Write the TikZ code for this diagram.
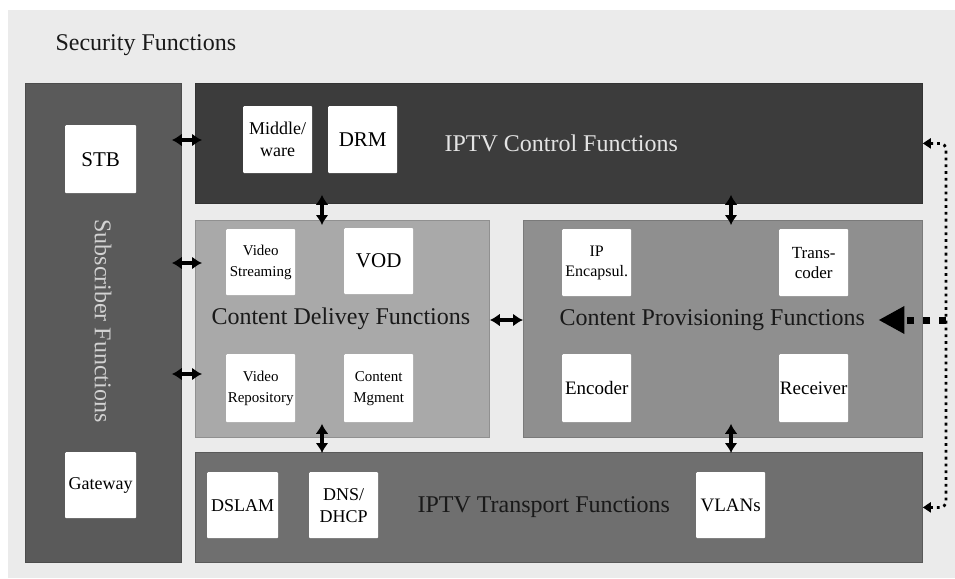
\documentclass[tikz,border=0pt]{standalone}
\usepackage{fontspec}
\setmainfont{Liberation Serif}
\usetikzlibrary{arrows.meta}
\definecolor{bgc}{HTML}{EBEBEB}
\definecolor{subc}{HTML}{5A5A5A}
\definecolor{ctrlc}{HTML}{3C3C3C}
\definecolor{delc}{HTML}{A9A9A9}
\definecolor{provc}{HTML}{8F8F8F}
\definecolor{trc}{HTML}{6F6F6F}
\definecolor{lighttext}{HTML}{E4E4E4}
\definecolor{subtext}{HTML}{D2D2D2}
\begin{document}
\begin{tikzpicture}[x=1pt,y=-1pt,
  panel/.style={anchor=north west, inner sep=0pt, line width=0.8pt},
  wbox/.style={anchor=north west, fill=white, inner sep=0pt, minimum width=69pt, minimum height=67pt, align=center, rounded corners=1pt, text=black},
  big/.style={font=\fontsize{24}{28}\selectfont},
  bl/.style={font=\fontsize{21}{24}\selectfont},
  ml/.style={font=\fontsize{18}{22}\selectfont},
  sl/.style={font=\fontsize{15}{21}\selectfont},
  dbl/.style={{Latex[length=10pt,width=13pt]}-{Latex[length=10pt,width=13pt]}, line width=3.4pt, black},
  dotline/.style={{Triangle[length=8pt,width=10pt]}-{Triangle[length=8pt,width=10pt]}, line width=2.8pt, dash pattern=on 2.8pt off 4pt, rounded corners=6pt, black},
  thickdash/.style={-{Triangle[length=26pt,width=26pt]}, line width=7pt, dash pattern=on 7pt off 9pt, black}
]
\useasboundingbox (0,0) rectangle (955,578);
\fill[white] (0,0) rectangle (955,578);
\fill[bgc] (8,10) rectangle (955,578);

\node[anchor=west, big, text=black!90] (sec) at (52,45) {Security Functions};

% panels
\node[panel, fill=subc, draw=subc!85!black, minimum width=156pt, minimum height=479pt] (sub) at (25,83) {};
\node[panel, fill=ctrlc, draw=ctrlc!85!black, minimum width=727pt, minimum height=120pt] (ctrl) at (195,83) {};
\node[panel, fill=delc, draw=delc!85!black, minimum width=294pt, minimum height=217pt] (deliv) at (195,220) {};
\node[panel, fill=provc, draw=provc!85!black, minimum width=399pt, minimum height=217pt] (prov) at (523,220) {};
\node[panel, fill=trc, draw=trc!80!black, minimum width=727pt, minimum height=110pt] (trans) at (195,452) {};

% panel labels
\node[big, text=subtext, rotate=-90] (subl) at (103,321) {Subscriber Functions};
\node[anchor=west, big, text=lighttext] (ctrll) at (441,143) {IPTV Control Functions};
\node[anchor=west, big, text=black!90] (dell) at (208,319) {Content Delivey Functions};
\node[anchor=west, big, text=black!90] (provl) at (556,320) {Content Provisioning Functions};
\node[anchor=west, big, text=black!90] (transl) at (414,507) {IPTV Transport Functions};

% white boxes
\node[wbox, bl, minimum width=71pt, minimum height=68pt] (stb) at (65,125) {STB};
\node[wbox, ml, minimum width=71pt, minimum height=66pt] (gw) at (65,452) {Gateway};
\node[wbox, ml] (mw) at (243,106) {Middle/\\ware};
\node[wbox, bl] (drm) at (328,106) {DRM};
\node[wbox, sl, minimum height=66pt] (vs) at (226,229) {Video\\Streaming};
\node[wbox, bl, minimum height=66pt] (vod) at (344,228) {VOD};
\node[wbox, sl, minimum height=68pt] (vr) at (226,354) {Video\\Repository};
\node[wbox, sl, minimum height=68pt] (cm) at (344,354) {Content\\Mgment};
\node[wbox, font=\fontsize{16}{20}\selectfont] (ip) at (562,229) {IP\\Encapsul.};
\node[wbox, font=\fontsize{17}{20}\selectfont] (tc) at (779,229) {Trans-\\coder};
\node[wbox, font=\fontsize{19}{22}\selectfont, minimum height=68pt] (enc) at (562,354) {Encoder};
\node[wbox, font=\fontsize{19}{22}\selectfont, minimum height=68pt] (rec) at (779,354) {Receiver};
\node[wbox, ml, minimum width=71pt, minimum height=66pt] (dslam) at (207,472) {DSLAM};
\node[wbox, ml, minimum height=66pt] (dns) at (309,472) {DNS/\\DHCP};
\node[wbox, font=\fontsize{19}{22}\selectfont, minimum height=66pt] (vlan) at (696,472) {VLANs};

% helper coordinates
\coordinate (cx1) at (322,0);
\coordinate (cx2) at (731,0);
\coordinate (rx) at (946,0);
\coordinate (y1) at (0,140);
\coordinate (y2) at (0,263);
\coordinate (y3) at (0,374);
\coordinate (y4) at (0,320);

% connectors
\draw[dbl] ([xshift=-10pt]sub.east |- y1) -- ([xshift=7pt]ctrl.west |- y1);
\draw[dbl] ([xshift=-10pt]sub.east |- y2) -- ([xshift=7pt]deliv.west |- y2);
\draw[dbl] ([xshift=-10pt]sub.east |- y3) -- ([xshift=7pt]deliv.west |- y3);
\draw[dbl] ([yshift=9pt]ctrl.south -| cx1) -- ([yshift=-5pt]deliv.north -| cx1);
\draw[dbl] ([yshift=9pt]ctrl.south -| cx2) -- ([yshift=-5pt]prov.north -| cx2);
\draw[dbl] (deliv.east |- y4) -- (prov.west |- y4);
\draw[dbl] ([yshift=14pt]deliv.south -| cx1) -- ([yshift=-1pt]trans.north -| cx1);
\draw[dbl] ([yshift=14pt]prov.south -| cx2) -- ([yshift=-1pt]trans.north -| cx2);

\draw[dotline] (ctrl.east) -- (ctrl.east -| rx) -- (trans.east -| rx) -- (trans.east);
\draw[thickdash] (rx |- provl.east) -- ([xshift=10pt]provl.east);
\end{tikzpicture}
\end{document}
